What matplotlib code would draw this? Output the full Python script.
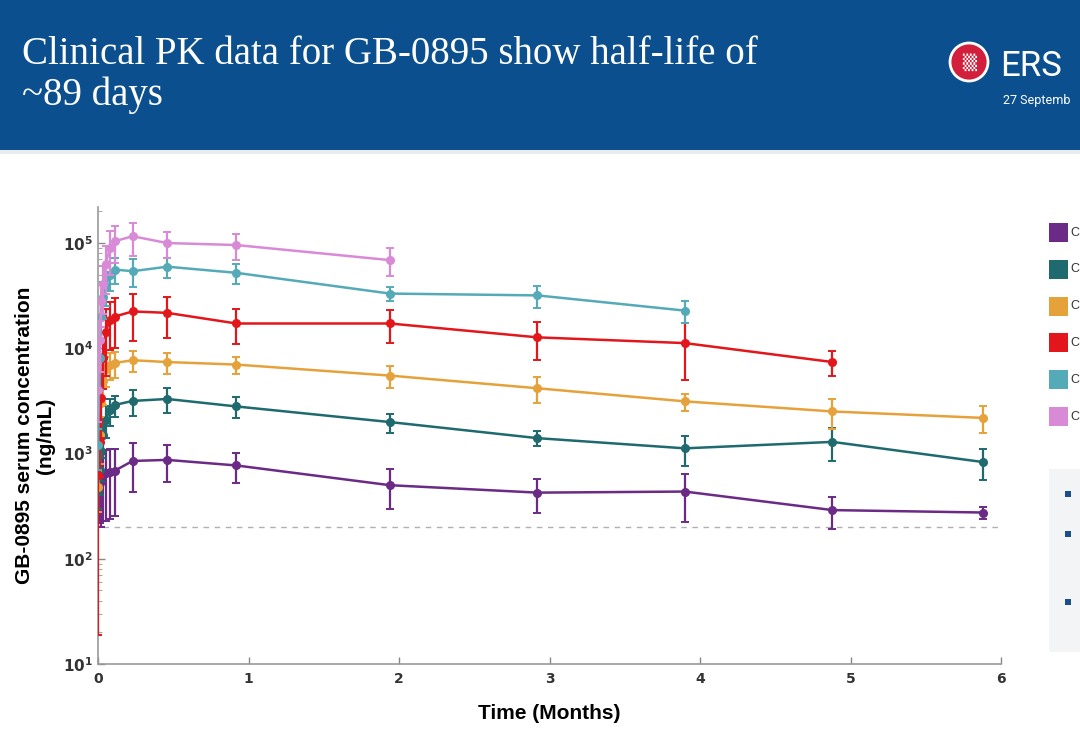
import numpy as np
import matplotlib
matplotlib.use("Agg")
import matplotlib.pyplot as plt
from matplotlib.patches import Rectangle, Ellipse
from matplotlib.ticker import LogLocator, FixedLocator

nan = np.nan
# ---------------- data ----------------
times = [0.0, 0.01, 0.02, 0.035, 0.05, 0.08, 0.11, 0.23, 0.46, 0.92, 1.94, 2.92, 3.9, 4.88, 5.88]
cohorts = ["Cohort 1", "Cohort 2", "Cohort 3", "Cohort 4", "Cohort 5", "Cohort 6"]
colors = ["#6b2a86", "#1e6a6e", "#e6a23a", "#e3161b", "#55aab8", "#d98ad6"]

c1_mean = [420, 520, 600, 630, 660, 670, 685, 850, 870, 770, 500, 425, 435, 290, 275]
c1_sd = [150, 300, 400, 400, 430, 430, 430, 420, 335, 240, 205, 150, 210, 100, 35]
c2_mean = [450, 700, 1050, 1510, 2100, 2570, 2890, 3160, 3300, 2800, 1990, 1400, 1120, 1290, 830]
c2_sd = [150, 300, 500, 600, 700, 750, 650, 870, 850, 610, 410, 230, 355, 440, 270]
c3_mean = [480, 1500, 3000, 4900, 6300, 7000, 7250, 7700, 7400, 7000, 5500, 4170, 3130, 2510, 2180]
c3_sd = [200, 700, 1500, 2000, 2000, 2000, 2000, 1700, 1700, 1250, 1350, 1130, 580, 800, 620]
c4_mean = [630, 1300, 3400, 8100, 14400, 18700, 20000, 22400, 21700, 17200, 17200, 12700, 11200, 7400, nan]
c4_sd = [611, 700, 2000, 4000, 9000, 9000, 10000, 10600, 9100, 6250, 6000, 5000, 6200, 2000, nan]
c5_mean = [1200, 8000, 20000, 31000, 39000, 50000, 56000, 54000, 59600, 52100, 33100, 31800, 22800, nan, nan]
c5_sd = [500, 4000, 8000, 12000, 14000, 15000, 15500, 16000, 12800, 11500, 4900, 7600, 5600, nan, nan]
c6_mean = [4000, 12000, 28000, 41000, 63000, 90000, 104000, 116000, 100000, 95700, 68800, nan, nan, nan, nan]
c6_sd = [2000, 6000, 12000, 20000, 30000, 40000, 40000, 40000, 27500, 26000, 20500, nan, nan, nan, nan]

means = [c1_mean, c2_mean, c3_mean, c4_mean, c5_mean, c6_mean]
sds = [c1_sd, c2_sd, c3_sd, c4_sd, c5_sd, c6_sd]
lloq = 200

x_ticks = [0, 1, 2, 3, 4, 5, 6]
title = "Clinical PK data for GB-0895 show half-life of\n~89 days"
xlabel = "Time (Months)"
ylabel = "GB-0895 serum concentration\n(ng/mL)"
legend_stub = "C"

# ---------------- figure ----------------
W, H = 1080, 744
fig = plt.figure(figsize=(W / 100, H / 100), dpi=100)
fig.patch.set_facecolor("white")

def fx(px):
    return px / W

def fy(py):
    return 1 - py / H

# header band
fig.add_artist(Rectangle((0, fy(150)), 1, 150 / H, transform=fig.transFigure,
                         facecolor="#0b4f8e", edgecolor="none", zorder=0))
fig.add_artist(Rectangle((0, fy(154)), 1, 4 / H, transform=fig.transFigure,
                         facecolor="#e9ecef", edgecolor="none", zorder=0))
fig.text(fx(22), fy(36), title, color="white", fontsize=28, family="Liberation Serif",
         va="top", ha="left", linespacing=1.12)

# ERS logo
fig.add_artist(Ellipse((fx(969), fy(62)), 38 / W, 38 / H, transform=fig.transFigure,
                       facecolor="#d21f3c", edgecolor="white", linewidth=2, zorder=2))
fig.text(fx(969), fy(62), "\u2592", color="white", fontsize=13, ha="center", va="center",
         family="DejaVu Sans", zorder=3)
fig.text(fx(1000), fy(76), "ERS", color="white", fontsize=25, family="Roboto",
         ha="left", va="baseline")
fig.text(fx(1003), fy(104), "27 Septemb", color="white", fontsize=9, family="Roboto",
         ha="left", va="baseline")

# ---------------- axes ----------------
ax = fig.add_axes([fx(98), fy(664), (1001 - 98) / W, (664 - 207) / H])
for i, (m, s) in enumerate(zip(means, sds)):
    ax.errorbar(times, m, yerr=s, color=colors[i], marker="o", markersize=5.5,
                linewidth=1.8, elinewidth=1.6, capsize=3, capthick=1.4,
                label=cohorts[i], zorder=3 + i)

ax.axhline(lloq, xmin=0.005, xmax=0.997, color="#b0b0b0", linestyle=(0, (4, 4)),
           linewidth=1.0, zorder=1)

ax.set_yscale("log")
ax.set_ylim(10, 2.2e5)
ax.set_xlim(0, 6)
ax.set_xticks(x_ticks)
ax.set_xticklabels([str(t) for t in x_ticks], fontweight="bold", fontsize=10)
ax.yaxis.set_major_locator(FixedLocator([10, 100, 1000, 1e4, 1e5]))
ax.set_yticklabels([r"$\mathbf{10^{1}}$", r"$\mathbf{10^{2}}$", r"$\mathbf{10^{3}}$",
                    r"$\mathbf{10^{4}}$", r"$\mathbf{10^{5}}$"], fontsize=11)
ax.yaxis.set_minor_locator(LogLocator(base=10, subs=np.arange(2, 10)))
ax.tick_params(axis="both", direction="in", colors="#888888", labelcolor="#333333",
               length=5, width=1)
ax.tick_params(axis="y", which="minor", direction="in", length=3, color="#999999")
ax.tick_params(axis="x", pad=6)
for sp in ["top", "right"]:
    ax.spines[sp].set_visible(False)
for sp in ["left", "bottom"]:
    ax.spines[sp].set_color("#999999")
    ax.spines[sp].set_linewidth(1.2)
ax.set_xlabel(xlabel, fontsize=15, fontweight="bold", family="Liberation Sans", labelpad=13)
ax.set_ylabel(ylabel, fontsize=15, fontweight="bold", family="Liberation Sans", labelpad=6,
              linespacing=1.1)

# ---------------- right side legend (cropped by slide edge) ----------------
for i, name in enumerate(cohorts):
    top = 223 + i * 36.8
    fig.add_artist(Rectangle((fx(1049), fy(top + 19)), 19 / W, 19 / H,
                             transform=fig.transFigure, facecolor=colors[i],
                             edgecolor="none"))
    fig.text(fx(1070), fy(top + 9.5), legend_stub, fontsize=9, color="#333333",
             family="Liberation Sans", va="center", ha="left")

fig.add_artist(Rectangle((fx(1049), fy(652)), (W - 1049) / W, (652 - 469) / H,
                         transform=fig.transFigure, facecolor="#f3f4f6",
                         edgecolor="none", zorder=0))
for by in [494, 534, 602]:
    fig.add_artist(Rectangle((fx(1065), fy(by + 3)), 6 / W, 6 / H,
                             transform=fig.transFigure, facecolor="#1a4f8a",
                             edgecolor="none"))

fig.savefig("out.png", dpi=100, facecolor=fig.get_facecolor())
